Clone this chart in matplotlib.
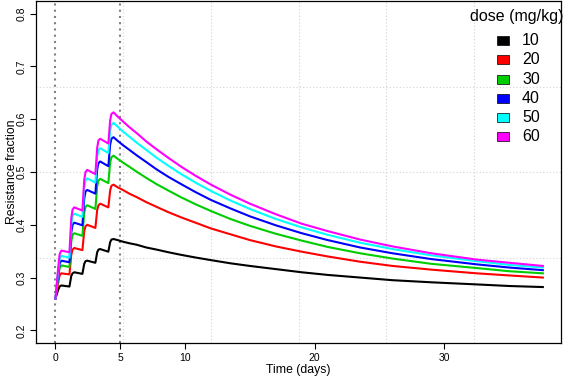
import numpy as np
import matplotlib
matplotlib.use("Agg")
import matplotlib.pyplot as plt
from matplotlib.patches import Rectangle

plt.rcParams['font.family'] = ['Liberation Sans', 'DejaVu Sans']

# doses in mg/kg and the R-style colours used for them
doses = [10, 20, 30, 40, 50, 60]
colors = ["#000000", "#FF0000", "#00CD00", "#0000FF", "#00FFFF", "#FF00FF"]

# dosing phase (one dose per day, days 0-4)
t_load = [0, 0.2, 0.32, 0.45, 1.08, 1.22, 1.32, 1.45, 2.08, 2.22, 2.32, 2.45,
          3.08, 3.22, 3.32, 3.45, 4.08, 4.22, 4.32]
# wash-out phase after the last dose
t_wash = [4.48, 4.8, 5.2, 5.7, 6.3, 7, 7.8, 8.7, 9.7, 10.8, 12, 13.5, 15, 17,
          19, 21, 23.5, 26, 29, 32.5, 35, 37.6]

load_10 = [.260, .276, .283, .285, .283, .303, .308, .310, .307, .326, .331, .332, .328, .348, .353, .354, .349, .367, .372]
load_20 = [.260, .289, .304, .308, .306, .343, .353, .356, .352, .388, .397, .400, .394, .428, .437, .440, .433, .465, .474]
load_30 = [.260, .298, .318, .323, .320, .368, .381, .384, .379, .423, .434, .437, .430, .473, .484, .487, .479, .518, .528]
load_40 = [.260, .303, .326, .332, .329, .385, .400, .404, .399, .449, .463, .466, .459, .505, .517, .520, .511, .552, .563]
load_50 = [.260, .309, .335, .341, .338, .400, .417, .421, .415, .470, .484, .488, .480, .529, .542, .545, .536, .579, .590]
load_60 = [.260, .315, .344, .351, .348, .412, .429, .433, .427, .485, .500, .504, .496, .546, .560, .563, .554, .598, .610]

wash_10 = [.373, .371, .368, .365, .362, .357, .353, .348, .343, .338, .333, .327, .322, .316, .310, .305, .300, .295, .291, .287, .284, .282]
wash_20 = [.476, .471, .466, .459, .452, .443, .434, .424, .414, .404, .393, .382, .371, .359, .349, .340, .330, .322, .315, .308, .304, .300]
wash_30 = [.531, .525, .518, .510, .500, .489, .477, .465, .452, .439, .426, .411, .398, .383, .370, .358, .346, .336, .326, .318, .312, .308]
wash_40 = [.566, .559, .551, .542, .531, .519, .505, .491, .477, .462, .447, .431, .416, .399, .384, .371, .357, .346, .335, .325, .319, .314]
wash_50 = [.593, .586, .577, .567, .555, .542, .527, .512, .496, .480, .464, .446, .430, .411, .395, .381, .366, .354, .342, .331, .324, .319]
wash_60 = [.613, .605, .596, .585, .573, .558, .543, .527, .510, .493, .476, .457, .440, .420, .402, .388, .372, .359, .346, .334, .328, .322]

loads = [load_10, load_20, load_30, load_40, load_50, load_60]
washes = [wash_10, wash_20, wash_30, wash_40, wash_50, wash_60]

W, H = 567, 379
fig = plt.figure(figsize=(W / 100, H / 100), dpi=100)
ax = fig.add_axes([36 / W, 36 / H, (561 - 36) / W, (378 - 36) / H])

xlim = (-1.5, 39.0)
ylim = (0.176, 0.824)
ax.set_xlim(*xlim)
ax.set_ylim(*ylim)

# R grid(nx=6, ny=4): equal divisions of the plot region
for gx in np.linspace(xlim[0], xlim[1], 7)[1:-1]:
    ax.axvline(gx, color="#D3D3D3", lw=0.8, ls=(0, (1, 2)), zorder=1)
for gy in np.linspace(ylim[0], ylim[1], 5)[1:-1]:
    ax.axhline(gy, color="#D3D3D3", lw=0.8, ls=(0, (1, 2)), zorder=1)

# dosing window markers
for vx in [0, 5]:
    ax.axvline(vx, color="#808080", lw=1.5, ls=(0, (1, 2)), zorder=2)

for ld, ws, col in zip(loads, washes, colors):
    ax.plot(t_load + t_wash, ld + ws, color=col, lw=1.5, zorder=3,
            solid_joinstyle="round")

ax.set_xticks([0, 5, 10, 20, 30])
ax.set_yticks([0.2, 0.3, 0.4, 0.5, 0.6, 0.7, 0.8])
ax.set_yticklabels(["0.2", "0.3", "0.4", "0.5", "0.6", "0.7", "0.8"], rotation=90, va="center")
ax.tick_params(labelsize=7.5, length=4, width=0.8)
ax.tick_params(axis="x", pad=3)
ax.tick_params(axis="y", pad=2.5)
ax.set_xlabel("Time (days)", fontsize=8.8, labelpad=1)
ax.set_ylabel("Resistance fraction", fontsize=8.8, labelpad=-1)
for s in ax.spines.values():
    s.set_linewidth(0.9)

# legend drawn by hand, like R's legend(bty="n") with filled boxes
px = lambda x, y: (x / W, 1 - y / H)
fig.text(*px(517, 17), "dose (mg/kg)", fontsize=11.5, ha="center", va="center")
for i, (d, c) in enumerate(zip(doses, colors)):
    yc = 40.7 + 19.2 * i
    x0, y0 = px(497, yc + 4.5)
    fig.patches.append(Rectangle((x0, y0), 12 / W, 9 / H, transform=fig.transFigure,
                                 facecolor=c, edgecolor="black", linewidth=0.5))
    fig.text(*px(522, yc), str(d), fontsize=11.5, ha="left", va="center")

fig.savefig("out.png", dpi=100)
